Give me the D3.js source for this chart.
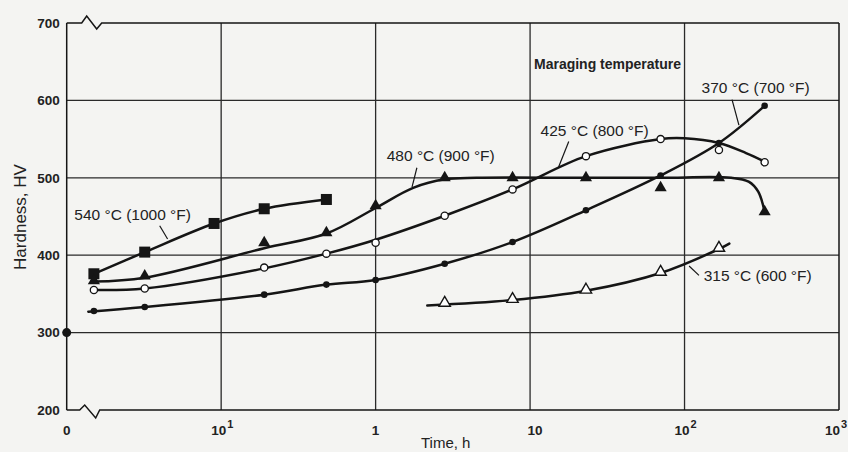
<!DOCTYPE html>
<html>
<head>
<meta charset="utf-8">
<script src="https://cdn.jsdelivr.net/npm/d3@7"></script>
<style>
  body { margin: 0; background: #f4f4f2; }
  svg { display: block; }
</style>
</head>
<body>
<div id="chart"></div>
<script>
// Aging time in hours (marker positions along the log axis)
const times = [0.015, 0.032, 0.19, 0.48, 1, 2.8, 7.7, 23, 70, 167, 330];
const times540 = [0.015, 0.032, 0.09, 0.19, 0.48];
const times315 = [2.8, 7.7, 23, 70, 167];

// Measured hardness (HV) at each marker
const hv540 = [376, 404, 441, 460, 472];
const hv480 = [367, 373, 416, 429, 464, 500, 500, 500, 487, 500, 456];
const hv425 = [355, 357, 384, 402, 416, 451, 485, 528, 550, 536, 520];
const hv370 = [328, 333, 349, 362, 368, 389, 417, 458, 503, 545, 593];
const hv315 = [337, 342, 354, 377, 408];

// Faired curves drawn through the data
const curve540 = [[0.015, 376], [0.032, 404], [0.09, 441], [0.19, 460], [0.48, 472]];
const curve480 = [[0.015, 366], [0.032, 371], [0.19, 409], [0.48, 428], [1, 461], [1.75, 487],
                  [2.8, 498], [4.5, 500], [23, 500], [70, 500], [200, 500], [260, 495], [300, 482], [330, 456]];
const curve425 = [[0.015, 355], [0.032, 357], [0.19, 383], [0.48, 402], [1, 420], [2.8, 451],
                  [7.7, 485], [23, 528], [70, 550], [100, 551], [167, 545], [250, 532], [330, 521]];
const curve370 = [[0.0138, 327], [0.032, 333], [0.19, 349], [0.48, 362], [1, 368], [2.8, 389],
                  [7.7, 417], [23, 458], [70, 503], [167, 545], [330, 593]];
const curve315 = [[2.16, 335], [7.7, 342], [23, 354], [70, 377], [167, 408], [195, 415]];

// As-annealed hardness at time zero
const startHV = 300;

const yTicks = [200, 300, 400, 500, 600, 700];
const xTicks = [0.01, 0.1, 1, 10, 100, 1000];
const xTickLabels = [["0", ""], ["10", "1"], ["1", ""], ["10", ""], ["10", "2"], ["10", "3"]];

const width = 848, height = 452;
const margin = {top: 23, right: 9, bottom: 42, left: 66.7};

const x = d3.scaleLog().domain([0.01, 1000]).range([margin.left, width - margin.right]);
const y = d3.scaleLinear().domain([200, 700]).range([height - margin.bottom, margin.top]);

const svg = d3.select("#chart").append("svg")
    .attr("width", width)
    .attr("height", height)
    .attr("font-family", "'Liberation Sans', Arial, Helvetica, sans-serif");

svg.append("rect").attr("width", width).attr("height", height).attr("fill", "#f4f4f2");

const ink = "#151515";

// Grid
svg.append("g")
    .attr("stroke", "#2a2a2a").attr("stroke-width", 1.3)
  .selectAll("line")
  .data(yTicks.slice(1, -1))
  .join("line")
    .attr("x1", x(0.01)).attr("x2", x(1000))
    .attr("y1", d => y(d)).attr("y2", d => y(d));

svg.append("g")
    .attr("stroke", "#2a2a2a").attr("stroke-width", 1.3)
  .selectAll("line")
  .data(xTicks.slice(1, -1))
  .join("line")
    .attr("x1", d => x(d)).attr("x2", d => x(d))
    .attr("y1", y(200)).attr("y2", y(700));

// Frame with the axis-break zigzags on top and bottom
const x0 = x(0.01), x1 = x(1000);
const frame = svg.append("g").attr("fill", "none").attr("stroke", ink).attr("stroke-width", 1.5);
frame.append("path").attr("d",
  `M${x0},${y(700)}H${x0 + 15}L${x0 + 20},${y(700) - 7}L${x0 + 30},${y(700) + 6}L${x0 + 35},${y(700)}H${x1}`);
frame.append("path").attr("d",
  `M${x0},${y(200)}H${x0 + 13}L${x0 + 18},${y(200) - 5}L${x0 + 29},${y(200) + 8}L${x0 + 33},${y(200)}H${x1}`);
frame.append("line").attr("x1", x0).attr("x2", x0).attr("y1", y(200)).attr("y2", y(700));
frame.append("line").attr("x1", x1).attr("x2", x1).attr("y1", y(200)).attr("y2", y(700));

// Y tick labels
svg.append("g")
    .attr("font-size", 13.5).attr("font-weight", "bold").attr("fill", "#222")
    .attr("text-anchor", "end")
  .selectAll("text")
  .data(yTicks)
  .join("text")
    .attr("x", x0 - 7)
    .attr("y", d => y(d))
    .attr("dy", "0.35em")
    .text(d => d);

// X tick labels (log decades); the last one is nudged in to stay on the page
const xl = svg.append("g")
    .attr("font-size", 13.5).attr("font-weight", "bold").attr("fill", "#222")
  .selectAll("text")
  .data(xTicks.map((d, i) => ({v: d, base: xTickLabels[i][0], sup: xTickLabels[i][1]})))
  .join("text")
    .attr("x", (d, i) => x(d.v) - (d.sup ? (i === xTicks.length - 1 ? 14 : 10) : 0) + (d.base === "10" && !d.sup ? 5 : 0))
    .attr("y", 435)
    .attr("text-anchor", d => d.sup ? "start" : "middle");
xl.append("tspan").text(d => d.base);
xl.append("tspan").attr("dy", -7).attr("dx", 1).attr("font-size", 11).text(d => d.sup);

// Axis titles
svg.append("text")
    .attr("transform", `translate(26,217) rotate(-90)`)
    .attr("text-anchor", "middle")
    .attr("font-size", 17).attr("fill", "#222")
    .text("Hardness, HV");

svg.append("text")
    .attr("x", 421).attr("y", 448)
    .attr("font-size", 15).attr("fill", "#222")
    .text("Time, h");

// Curves
const line = d3.line()
    .x(d => x(d[0]))
    .y(d => y(d[1]))
    .curve(d3.curveCatmullRom.alpha(0.5));

svg.append("g")
    .attr("fill", "none").attr("stroke", ink).attr("stroke-width", 2.5)
    .attr("stroke-linejoin", "round").attr("stroke-linecap", "round")
  .selectAll("path")
  .data([curve540, curve480, curve425, curve370, curve315])
  .join("path")
    .attr("d", line);

// Markers
const pts = (ts, hv) => ts.map((t, i) => [t, hv[i]]);

svg.append("g").attr("fill", ink)
  .selectAll("rect")
  .data(pts(times540, hv540))
  .join("rect")
    .attr("x", d => x(d[0]) - 5.5).attr("y", d => y(d[1]) - 5.5)
    .attr("width", 11).attr("height", 11);

svg.append("g").attr("fill", ink)
  .selectAll("path")
  .data(pts(times, hv480))
  .join("path")
    .attr("transform", d => `translate(${x(d[0])},${y(d[1])})`)
    .attr("d", d3.symbol(d3.symbolTriangle, 64));

svg.append("g").attr("fill", "#fff").attr("stroke", ink).attr("stroke-width", 1.3)
  .selectAll("circle")
  .data(pts(times, hv425))
  .join("circle")
    .attr("cx", d => x(d[0])).attr("cy", d => y(d[1])).attr("r", 3.6);

svg.append("g").attr("fill", ink)
  .selectAll("circle")
  .data(pts(times, hv370))
  .join("circle")
    .attr("cx", d => x(d[0])).attr("cy", d => y(d[1])).attr("r", 3.3);

svg.append("g").attr("fill", "#fff").attr("stroke", ink).attr("stroke-width", 1.4)
  .selectAll("path")
  .data(pts(times315, hv315))
  .join("path")
    .attr("transform", d => `translate(${x(d[0])},${y(d[1]) - 1})`)
    .attr("d", d3.symbol(d3.symbolTriangle, 56));

// Starting hardness on the zero-time axis
svg.append("circle")
    .attr("cx", x(0.01)).attr("cy", y(startHV)).attr("r", 4.5).attr("fill", ink);

// Curve labels with leader lines (data coordinates)
const notes = [
  {text: "540 °C (1000 °F)", at: [0.0112, 446], from: [0.040, 438], to: [0.045, 421]},
  {text: "480 °C (900 °F)", at: [1.18, 522], from: [1.85, 513], to: [1.72, 488]},
  {text: "425 °C (800 °F)", at: [11.7, 554], from: [17.8, 547], to: [15.3, 514]},
  {text: "370 °C (700 °F)", at: [129, 610], from: [203, 601], to: [225, 568]},
  {text: "315 °C (600 °F)", at: [133, 367], from: [124, 374], to: [107, 386]}
];

const note = svg.append("g").selectAll("g").data(notes).join("g");
note.append("text")
    .attr("x", d => x(d.at[0])).attr("y", d => y(d.at[1]))
    .attr("font-size", 15.5).attr("fill", "#222")
    .text(d => d.text);
note.append("line")
    .attr("stroke", ink).attr("stroke-width", 1.2)
    .attr("x1", d => x(d.from[0])).attr("y1", d => y(d.from[1]))
    .attr("x2", d => x(d.to[0])).attr("y2", d => y(d.to[1]));

svg.append("text")
    .attr("x", x(10.6)).attr("y", y(641))
    .attr("font-size", 14).attr("font-weight", "bold").attr("fill", "#222")
    .text("Maraging temperature");
</script>
</body>
</html>
